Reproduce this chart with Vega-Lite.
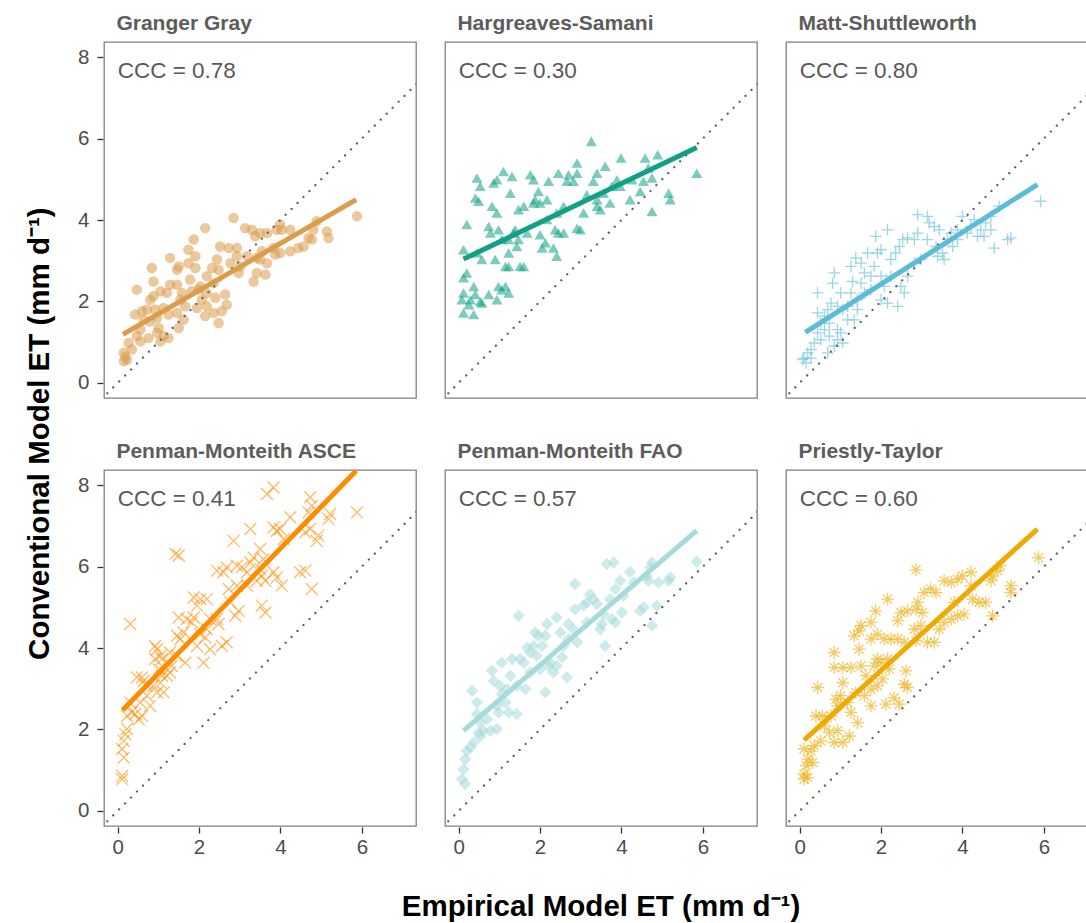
{
"$schema": "https://vega.github.io/schema/vega-lite/v6.json",
"padding": {"left": 25, "top": 11, "right": 0, "bottom": 0},
"title": {"text": "\u200b\u00a0\u00a0\u00a0\u00a0\u00a0\u00a0\u00a0\u00a0Conventional Model ET (mm d⁻¹)", "orient": "left", "anchor": "middle", "fontSize": 29.5, "fontWeight": "bold", "font": "Liberation Sans", "color": "#000000", "offset": 22},
"data": {"values": [
{"model":"Granger Gray","kind":"p","x":0.15,"y":0.53},{"model":"Granger Gray","kind":"p","x":0.19,"y":0.65},{"model":"Granger Gray","kind":"p","x":0.23,"y":0.57},{"model":"Granger Gray","kind":"p","x":0.15,"y":0.74},{"model":"Granger Gray","kind":"p","x":0.35,"y":0.82},{"model":"Granger Gray","kind":"p","x":0.27,"y":0.98},{"model":"Granger Gray","kind":"p","x":0.47,"y":1.15},{"model":"Granger Gray","kind":"p","x":0.56,"y":1.02},{"model":"Granger Gray","kind":"p","x":0.76,"y":1.10},{"model":"Granger Gray","kind":"p","x":0.56,"y":1.31},{"model":"Granger Gray","kind":"p","x":0.43,"y":1.68},{"model":"Granger Gray","kind":"p","x":0.60,"y":1.76},{"model":"Granger Gray","kind":"p","x":0.47,"y":2.29},{"model":"Granger Gray","kind":"p","x":0.84,"y":2.82},{"model":"Granger Gray","kind":"p","x":0.88,"y":2.49},{"model":"Granger Gray","kind":"p","x":0.88,"y":2.13},{"model":"Granger Gray","kind":"p","x":0.92,"y":1.80},{"model":"Granger Gray","kind":"p","x":0.97,"y":1.60},{"model":"Granger Gray","kind":"p","x":0.80,"y":1.51},{"model":"Granger Gray","kind":"p","x":1.01,"y":1.35},{"model":"Granger Gray","kind":"p","x":1.13,"y":1.15},{"model":"Granger Gray","kind":"p","x":1.25,"y":1.10},{"model":"Granger Gray","kind":"p","x":1.05,"y":1.02},{"model":"Granger Gray","kind":"p","x":1.25,"y":1.68},{"model":"Granger Gray","kind":"p","x":1.13,"y":1.84},{"model":"Granger Gray","kind":"p","x":1.05,"y":2.25},{"model":"Granger Gray","kind":"p","x":1.29,"y":2.41},{"model":"Granger Gray","kind":"p","x":1.29,"y":3.07},{"model":"Granger Gray","kind":"p","x":1.50,"y":2.86},{"model":"Granger Gray","kind":"p","x":1.46,"y":2.41},{"model":"Granger Gray","kind":"p","x":1.50,"y":1.35},{"model":"Granger Gray","kind":"p","x":1.62,"y":1.55},{"model":"Granger Gray","kind":"p","x":1.66,"y":1.88},{"model":"Granger Gray","kind":"p","x":1.58,"y":2.21},{"model":"Granger Gray","kind":"p","x":1.74,"y":3.27},{"model":"Granger Gray","kind":"p","x":1.87,"y":3.52},{"model":"Granger Gray","kind":"p","x":1.74,"y":2.94},{"model":"Granger Gray","kind":"p","x":1.91,"y":3.11},{"model":"Granger Gray","kind":"p","x":1.91,"y":2.82},{"model":"Granger Gray","kind":"p","x":1.82,"y":2.25},{"model":"Granger Gray","kind":"p","x":1.99,"y":2.29},{"model":"Granger Gray","kind":"p","x":1.95,"y":1.84},{"model":"Granger Gray","kind":"p","x":2.07,"y":2.04},{"model":"Granger Gray","kind":"p","x":2.15,"y":1.64},{"model":"Granger Gray","kind":"p","x":2.19,"y":1.88},{"model":"Granger Gray","kind":"p","x":2.19,"y":2.62},{"model":"Granger Gray","kind":"p","x":2.32,"y":2.82},{"model":"Granger Gray","kind":"p","x":2.36,"y":2.45},{"model":"Granger Gray","kind":"p","x":2.44,"y":3.03},{"model":"Granger Gray","kind":"p","x":2.48,"y":2.78},{"model":"Granger Gray","kind":"p","x":2.48,"y":1.47},{"model":"Granger Gray","kind":"p","x":2.36,"y":1.72},{"model":"Granger Gray","kind":"p","x":2.56,"y":1.76},{"model":"Granger Gray","kind":"p","x":2.64,"y":2.17},{"model":"Granger Gray","kind":"p","x":2.68,"y":1.92},{"model":"Granger Gray","kind":"p","x":2.40,"y":2.09},{"model":"Granger Gray","kind":"p","x":2.15,"y":3.80},{"model":"Granger Gray","kind":"p","x":2.52,"y":3.35},{"model":"Granger Gray","kind":"p","x":2.73,"y":3.31},{"model":"Granger Gray","kind":"p","x":2.85,"y":4.05},{"model":"Granger Gray","kind":"p","x":2.93,"y":3.31},{"model":"Granger Gray","kind":"p","x":2.93,"y":3.11},{"model":"Granger Gray","kind":"p","x":2.97,"y":2.70},{"model":"Granger Gray","kind":"p","x":3.01,"y":2.86},{"model":"Granger Gray","kind":"p","x":3.13,"y":3.80},{"model":"Granger Gray","kind":"p","x":3.30,"y":3.76},{"model":"Granger Gray","kind":"p","x":3.34,"y":2.49},{"model":"Granger Gray","kind":"p","x":3.42,"y":2.70},{"model":"Granger Gray","kind":"p","x":3.38,"y":3.60},{"model":"Granger Gray","kind":"p","x":3.50,"y":3.68},{"model":"Granger Gray","kind":"p","x":3.54,"y":3.23},{"model":"Granger Gray","kind":"p","x":3.63,"y":2.66},{"model":"Granger Gray","kind":"p","x":3.50,"y":3.03},{"model":"Granger Gray","kind":"p","x":3.67,"y":3.68},{"model":"Granger Gray","kind":"p","x":3.83,"y":3.31},{"model":"Granger Gray","kind":"p","x":3.87,"y":3.15},{"model":"Granger Gray","kind":"p","x":3.91,"y":3.76},{"model":"Granger Gray","kind":"p","x":3.99,"y":3.89},{"model":"Granger Gray","kind":"p","x":4.03,"y":3.76},{"model":"Granger Gray","kind":"p","x":4.24,"y":3.76},{"model":"Granger Gray","kind":"p","x":4.24,"y":3.23},{"model":"Granger Gray","kind":"p","x":4.44,"y":3.31},{"model":"Granger Gray","kind":"p","x":4.57,"y":3.35},{"model":"Granger Gray","kind":"p","x":4.69,"y":3.56},{"model":"Granger Gray","kind":"p","x":4.77,"y":3.52},{"model":"Granger Gray","kind":"p","x":4.81,"y":3.76},{"model":"Granger Gray","kind":"p","x":4.89,"y":3.97},{"model":"Granger Gray","kind":"p","x":5.14,"y":3.72},{"model":"Granger Gray","kind":"p","x":5.18,"y":3.56},{"model":"Granger Gray","kind":"p","x":5.88,"y":4.09},{"model":"Granger Gray","kind":"p","x":3.42,"y":3.07},{"model":"Granger Gray","kind":"p","x":3.67,"y":2.94},{"model":"Granger Gray","kind":"p","x":3.99,"y":3.19},{"model":"Granger Gray","kind":"p","x":3.18,"y":3.11},{"model":"Granger Gray","kind":"p","x":2.77,"y":2.94},{"model":"Granger Gray","kind":"p","x":2.03,"y":2.37},{"model":"Granger Gray","kind":"p","x":1.78,"y":2.54},{"model":"Granger Gray","kind":"p","x":1.46,"y":2.78},{"model":"Granger Gray","kind":"p","x":1.21,"y":2.21},{"model":"Granger Gray","kind":"p","x":0.80,"y":2.04},{"model":"Granger Gray","kind":"p","x":0.72,"y":1.80},{"model":"Granger Gray","kind":"p","x":0.64,"y":1.55},{"model":"Granger Gray","kind":"p","x":1.54,"y":2.04},{"model":"Granger Gray","kind":"p","x":2.19,"y":2.21},{"model":"Granger Gray","kind":"p","x":1.46,"y":1.72},{"model":"Granger Gray","kind":"p","x":0.97,"y":1.23},
{"model":"Hargreaves-Samani","kind":"p","x":3.26,"y":5.93},{"model":"Hargreaves-Samani","kind":"p","x":3.99,"y":5.52},{"model":"Hargreaves-Samani","kind":"p","x":4.58,"y":5.52},{"model":"Hargreaves-Samani","kind":"p","x":4.89,"y":5.60},{"model":"Hargreaves-Samani","kind":"p","x":5.85,"y":5.15},{"model":"Hargreaves-Samani","kind":"p","x":4.66,"y":5.28},{"model":"Hargreaves-Samani","kind":"p","x":4.54,"y":4.95},{"model":"Hargreaves-Samani","kind":"p","x":4.75,"y":5.03},{"model":"Hargreaves-Samani","kind":"p","x":5.16,"y":4.66},{"model":"Hargreaves-Samani","kind":"p","x":5.20,"y":4.50},{"model":"Hargreaves-Samani","kind":"p","x":4.75,"y":4.21},{"model":"Hargreaves-Samani","kind":"p","x":4.46,"y":4.70},{"model":"Hargreaves-Samani","kind":"p","x":4.26,"y":4.99},{"model":"Hargreaves-Samani","kind":"p","x":3.89,"y":4.99},{"model":"Hargreaves-Samani","kind":"p","x":3.76,"y":4.83},{"model":"Hargreaves-Samani","kind":"p","x":3.60,"y":5.32},{"model":"Hargreaves-Samani","kind":"p","x":3.40,"y":5.15},{"model":"Hargreaves-Samani","kind":"p","x":3.31,"y":4.95},{"model":"Hargreaves-Samani","kind":"p","x":3.40,"y":4.50},{"model":"Hargreaves-Samani","kind":"p","x":3.48,"y":4.25},{"model":"Hargreaves-Samani","kind":"p","x":3.56,"y":4.66},{"model":"Hargreaves-Samani","kind":"p","x":3.15,"y":4.62},{"model":"Hargreaves-Samani","kind":"p","x":2.91,"y":5.40},{"model":"Hargreaves-Samani","kind":"p","x":2.91,"y":5.15},{"model":"Hargreaves-Samani","kind":"p","x":2.70,"y":5.11},{"model":"Hargreaves-Samani","kind":"p","x":2.45,"y":5.15},{"model":"Hargreaves-Samani","kind":"p","x":2.82,"y":4.95},{"model":"Hargreaves-Samani","kind":"p","x":2.66,"y":4.95},{"model":"Hargreaves-Samani","kind":"p","x":2.99,"y":3.76},{"model":"Hargreaves-Samani","kind":"p","x":2.91,"y":3.80},{"model":"Hargreaves-Samani","kind":"p","x":2.58,"y":3.68},{"model":"Hargreaves-Samani","kind":"p","x":2.45,"y":3.68},{"model":"Hargreaves-Samani","kind":"p","x":2.37,"y":3.76},{"model":"Hargreaves-Samani","kind":"p","x":2.41,"y":3.11},{"model":"Hargreaves-Samani","kind":"p","x":2.33,"y":3.31},{"model":"Hargreaves-Samani","kind":"p","x":2.05,"y":3.31},{"model":"Hargreaves-Samani","kind":"p","x":2.00,"y":3.64},{"model":"Hargreaves-Samani","kind":"p","x":2.13,"y":3.44},{"model":"Hargreaves-Samani","kind":"p","x":2.17,"y":4.50},{"model":"Hargreaves-Samani","kind":"p","x":2.21,"y":4.95},{"model":"Hargreaves-Samani","kind":"p","x":1.96,"y":4.70},{"model":"Hargreaves-Samani","kind":"p","x":1.84,"y":4.99},{"model":"Hargreaves-Samani","kind":"p","x":1.76,"y":5.11},{"model":"Hargreaves-Samani","kind":"p","x":1.88,"y":4.50},{"model":"Hargreaves-Samani","kind":"p","x":1.84,"y":4.42},{"model":"Hargreaves-Samani","kind":"p","x":1.60,"y":4.34},{"model":"Hargreaves-Samani","kind":"p","x":1.47,"y":4.25},{"model":"Hargreaves-Samani","kind":"p","x":1.39,"y":3.76},{"model":"Hargreaves-Samani","kind":"p","x":1.35,"y":3.68},{"model":"Hargreaves-Samani","kind":"p","x":1.27,"y":4.66},{"model":"Hargreaves-Samani","kind":"p","x":1.31,"y":5.07},{"model":"Hargreaves-Samani","kind":"p","x":1.10,"y":5.19},{"model":"Hargreaves-Samani","kind":"p","x":0.94,"y":4.99},{"model":"Hargreaves-Samani","kind":"p","x":0.86,"y":4.91},{"model":"Hargreaves-Samani","kind":"p","x":0.82,"y":4.34},{"model":"Hargreaves-Samani","kind":"p","x":0.78,"y":3.68},{"model":"Hargreaves-Samani","kind":"p","x":0.98,"y":3.76},{"model":"Hargreaves-Samani","kind":"p","x":1.06,"y":3.52},{"model":"Hargreaves-Samani","kind":"p","x":0.90,"y":3.03},{"model":"Hargreaves-Samani","kind":"p","x":1.15,"y":2.86},{"model":"Hargreaves-Samani","kind":"p","x":1.23,"y":2.86},{"model":"Hargreaves-Samani","kind":"p","x":1.23,"y":3.19},{"model":"Hargreaves-Samani","kind":"p","x":1.51,"y":2.86},{"model":"Hargreaves-Samani","kind":"p","x":1.60,"y":2.86},{"model":"Hargreaves-Samani","kind":"p","x":1.47,"y":3.52},{"model":"Hargreaves-Samani","kind":"p","x":1.43,"y":3.35},{"model":"Hargreaves-Samani","kind":"p","x":1.06,"y":2.29},{"model":"Hargreaves-Samani","kind":"p","x":0.98,"y":2.37},{"model":"Hargreaves-Samani","kind":"p","x":1.23,"y":2.21},{"model":"Hargreaves-Samani","kind":"p","x":0.94,"y":2.04},{"model":"Hargreaves-Samani","kind":"p","x":0.74,"y":2.17},{"model":"Hargreaves-Samani","kind":"p","x":0.57,"y":1.96},{"model":"Hargreaves-Samani","kind":"p","x":0.53,"y":2.00},{"model":"Hargreaves-Samani","kind":"p","x":0.41,"y":2.17},{"model":"Hargreaves-Samani","kind":"p","x":0.37,"y":2.37},{"model":"Hargreaves-Samani","kind":"p","x":0.20,"y":2.70},{"model":"Hargreaves-Samani","kind":"p","x":0.12,"y":2.58},{"model":"Hargreaves-Samani","kind":"p","x":0.12,"y":2.21},{"model":"Hargreaves-Samani","kind":"p","x":0.08,"y":2.04},{"model":"Hargreaves-Samani","kind":"p","x":0.29,"y":2.04},{"model":"Hargreaves-Samani","kind":"p","x":0.25,"y":1.92},{"model":"Hargreaves-Samani","kind":"p","x":0.12,"y":1.72},{"model":"Hargreaves-Samani","kind":"p","x":0.37,"y":1.68},{"model":"Hargreaves-Samani","kind":"p","x":0.12,"y":3.27},{"model":"Hargreaves-Samani","kind":"p","x":0.45,"y":3.19},{"model":"Hargreaves-Samani","kind":"p","x":0.49,"y":4.46},{"model":"Hargreaves-Samani","kind":"p","x":0.41,"y":4.54},{"model":"Hargreaves-Samani","kind":"p","x":0.53,"y":4.83},{"model":"Hargreaves-Samani","kind":"p","x":0.45,"y":5.03},{"model":"Hargreaves-Samani","kind":"p","x":0.20,"y":3.89},{"model":"Hargreaves-Samani","kind":"p","x":1.23,"y":3.52},{"model":"Hargreaves-Samani","kind":"p","x":1.68,"y":3.68},{"model":"Hargreaves-Samani","kind":"p","x":2.17,"y":4.01},{"model":"Hargreaves-Samani","kind":"p","x":2.41,"y":4.17},{"model":"Hargreaves-Samani","kind":"p","x":2.58,"y":4.34},{"model":"Hargreaves-Samani","kind":"p","x":3.07,"y":4.17},{"model":"Hargreaves-Samani","kind":"p","x":3.40,"y":4.34},{"model":"Hargreaves-Samani","kind":"p","x":3.72,"y":4.42},{"model":"Hargreaves-Samani","kind":"p","x":3.97,"y":4.83},{"model":"Hargreaves-Samani","kind":"p","x":4.21,"y":4.50},{"model":"Hargreaves-Samani","kind":"p","x":0.94,"y":4.17},{"model":"Hargreaves-Samani","kind":"p","x":0.74,"y":3.84},{"model":"Hargreaves-Samani","kind":"p","x":0.57,"y":3.03},{"model":"Hargreaves-Samani","kind":"p","x":1.15,"y":2.37},{"model":"Hargreaves-Samani","kind":"p","x":2.00,"y":4.42},
{"model":"Matt-Shuttleworth","kind":"p","x":5.92,"y":4.46},{"model":"Matt-Shuttleworth","kind":"p","x":5.19,"y":3.56},{"model":"Matt-Shuttleworth","kind":"p","x":5.11,"y":3.52},{"model":"Matt-Shuttleworth","kind":"p","x":4.78,"y":3.31},{"model":"Matt-Shuttleworth","kind":"p","x":4.90,"y":4.34},{"model":"Matt-Shuttleworth","kind":"p","x":4.70,"y":4.09},{"model":"Matt-Shuttleworth","kind":"p","x":4.57,"y":3.93},{"model":"Matt-Shuttleworth","kind":"p","x":4.45,"y":3.76},{"model":"Matt-Shuttleworth","kind":"p","x":4.21,"y":3.84},{"model":"Matt-Shuttleworth","kind":"p","x":4.12,"y":3.68},{"model":"Matt-Shuttleworth","kind":"p","x":4.00,"y":4.09},{"model":"Matt-Shuttleworth","kind":"p","x":3.88,"y":3.52},{"model":"Matt-Shuttleworth","kind":"p","x":3.76,"y":3.35},{"model":"Matt-Shuttleworth","kind":"p","x":3.63,"y":3.52},{"model":"Matt-Shuttleworth","kind":"p","x":3.51,"y":3.19},{"model":"Matt-Shuttleworth","kind":"p","x":3.43,"y":3.76},{"model":"Matt-Shuttleworth","kind":"p","x":3.31,"y":3.84},{"model":"Matt-Shuttleworth","kind":"p","x":3.18,"y":3.93},{"model":"Matt-Shuttleworth","kind":"p","x":3.14,"y":4.09},{"model":"Matt-Shuttleworth","kind":"p","x":2.90,"y":4.13},{"model":"Matt-Shuttleworth","kind":"p","x":2.90,"y":3.68},{"model":"Matt-Shuttleworth","kind":"p","x":2.82,"y":3.52},{"model":"Matt-Shuttleworth","kind":"p","x":2.65,"y":3.56},{"model":"Matt-Shuttleworth","kind":"p","x":2.53,"y":3.52},{"model":"Matt-Shuttleworth","kind":"p","x":2.45,"y":3.35},{"model":"Matt-Shuttleworth","kind":"p","x":2.36,"y":3.19},{"model":"Matt-Shuttleworth","kind":"p","x":2.24,"y":3.03},{"model":"Matt-Shuttleworth","kind":"p","x":2.16,"y":3.76},{"model":"Matt-Shuttleworth","kind":"p","x":2.00,"y":3.27},{"model":"Matt-Shuttleworth","kind":"p","x":1.87,"y":3.60},{"model":"Matt-Shuttleworth","kind":"p","x":1.91,"y":3.19},{"model":"Matt-Shuttleworth","kind":"p","x":1.83,"y":2.86},{"model":"Matt-Shuttleworth","kind":"p","x":1.75,"y":2.62},{"model":"Matt-Shuttleworth","kind":"p","x":1.67,"y":3.19},{"model":"Matt-Shuttleworth","kind":"p","x":1.51,"y":2.94},{"model":"Matt-Shuttleworth","kind":"p","x":1.38,"y":3.07},{"model":"Matt-Shuttleworth","kind":"p","x":1.26,"y":2.86},{"model":"Matt-Shuttleworth","kind":"p","x":1.30,"y":2.49},{"model":"Matt-Shuttleworth","kind":"p","x":1.51,"y":2.45},{"model":"Matt-Shuttleworth","kind":"p","x":1.59,"y":2.21},{"model":"Matt-Shuttleworth","kind":"p","x":1.42,"y":2.04},{"model":"Matt-Shuttleworth","kind":"p","x":1.26,"y":2.21},{"model":"Matt-Shuttleworth","kind":"p","x":1.01,"y":2.21},{"model":"Matt-Shuttleworth","kind":"p","x":0.85,"y":2.70},{"model":"Matt-Shuttleworth","kind":"p","x":0.81,"y":2.45},{"model":"Matt-Shuttleworth","kind":"p","x":0.93,"y":1.88},{"model":"Matt-Shuttleworth","kind":"p","x":1.06,"y":1.80},{"model":"Matt-Shuttleworth","kind":"p","x":1.18,"y":1.88},{"model":"Matt-Shuttleworth","kind":"p","x":0.77,"y":1.96},{"model":"Matt-Shuttleworth","kind":"p","x":0.69,"y":1.80},{"model":"Matt-Shuttleworth","kind":"p","x":0.61,"y":1.64},{"model":"Matt-Shuttleworth","kind":"p","x":0.44,"y":2.21},{"model":"Matt-Shuttleworth","kind":"p","x":0.44,"y":1.72},{"model":"Matt-Shuttleworth","kind":"p","x":0.52,"y":1.47},{"model":"Matt-Shuttleworth","kind":"p","x":0.73,"y":1.47},{"model":"Matt-Shuttleworth","kind":"p","x":0.93,"y":1.31},{"model":"Matt-Shuttleworth","kind":"p","x":1.01,"y":1.23},{"model":"Matt-Shuttleworth","kind":"p","x":1.06,"y":0.98},{"model":"Matt-Shuttleworth","kind":"p","x":0.93,"y":1.06},{"model":"Matt-Shuttleworth","kind":"p","x":0.73,"y":1.15},{"model":"Matt-Shuttleworth","kind":"p","x":0.52,"y":1.06},{"model":"Matt-Shuttleworth","kind":"p","x":0.36,"y":0.98},{"model":"Matt-Shuttleworth","kind":"p","x":0.28,"y":0.82},{"model":"Matt-Shuttleworth","kind":"p","x":0.20,"y":0.74},{"model":"Matt-Shuttleworth","kind":"p","x":0.11,"y":0.61},{"model":"Matt-Shuttleworth","kind":"p","x":0.07,"y":0.57},{"model":"Matt-Shuttleworth","kind":"p","x":0.16,"y":0.49},{"model":"Matt-Shuttleworth","kind":"p","x":0.28,"y":0.61},{"model":"Matt-Shuttleworth","kind":"p","x":0.44,"y":1.23},{"model":"Matt-Shuttleworth","kind":"p","x":0.69,"y":0.74},{"model":"Matt-Shuttleworth","kind":"p","x":1.18,"y":1.55},{"model":"Matt-Shuttleworth","kind":"p","x":1.42,"y":1.80},{"model":"Matt-Shuttleworth","kind":"p","x":1.75,"y":2.29},{"model":"Matt-Shuttleworth","kind":"p","x":2.08,"y":2.37},{"model":"Matt-Shuttleworth","kind":"p","x":2.24,"y":2.62},{"model":"Matt-Shuttleworth","kind":"p","x":2.49,"y":2.37},{"model":"Matt-Shuttleworth","kind":"p","x":2.57,"y":2.21},{"model":"Matt-Shuttleworth","kind":"p","x":2.65,"y":2.62},{"model":"Matt-Shuttleworth","kind":"p","x":2.41,"y":1.88},{"model":"Matt-Shuttleworth","kind":"p","x":2.16,"y":1.96},{"model":"Matt-Shuttleworth","kind":"p","x":2.00,"y":2.04},{"model":"Matt-Shuttleworth","kind":"p","x":2.82,"y":2.94},{"model":"Matt-Shuttleworth","kind":"p","x":3.14,"y":3.52},{"model":"Matt-Shuttleworth","kind":"p","x":3.35,"y":3.35},{"model":"Matt-Shuttleworth","kind":"p","x":3.55,"y":3.03},{"model":"Matt-Shuttleworth","kind":"p","x":3.39,"y":3.11},{"model":"Matt-Shuttleworth","kind":"p","x":3.72,"y":3.68},{"model":"Matt-Shuttleworth","kind":"p","x":3.88,"y":3.76},{"model":"Matt-Shuttleworth","kind":"p","x":4.29,"y":4.01},{"model":"Matt-Shuttleworth","kind":"p","x":4.37,"y":3.60},{"model":"Matt-Shuttleworth","kind":"p","x":4.53,"y":3.60},{"model":"Matt-Shuttleworth","kind":"p","x":4.70,"y":3.76},{"model":"Matt-Shuttleworth","kind":"p","x":2.98,"y":3.03},{"model":"Matt-Shuttleworth","kind":"p","x":2.00,"y":2.62},{"model":"Matt-Shuttleworth","kind":"p","x":1.59,"y":2.70},{"model":"Matt-Shuttleworth","kind":"p","x":1.34,"y":1.55},{"model":"Matt-Shuttleworth","kind":"p","x":0.61,"y":1.31},{"model":"Matt-Shuttleworth","kind":"p","x":0.85,"y":0.90},
{"model":"Penman-Monteith ASCE","kind":"p","x":3.83,"y":7.94},{"model":"Penman-Monteith ASCE","kind":"p","x":3.67,"y":7.78},{"model":"Penman-Monteith ASCE","kind":"p","x":5.88,"y":7.33},{"model":"Penman-Monteith ASCE","kind":"p","x":4.73,"y":7.70},{"model":"Penman-Monteith ASCE","kind":"p","x":4.77,"y":7.49},{"model":"Penman-Monteith ASCE","kind":"p","x":4.69,"y":7.33},{"model":"Penman-Monteith ASCE","kind":"p","x":5.22,"y":7.29},{"model":"Penman-Monteith ASCE","kind":"p","x":5.18,"y":7.17},{"model":"Penman-Monteith ASCE","kind":"p","x":4.93,"y":6.76},{"model":"Penman-Monteith ASCE","kind":"p","x":4.89,"y":6.63},{"model":"Penman-Monteith ASCE","kind":"p","x":4.73,"y":6.92},{"model":"Penman-Monteith ASCE","kind":"p","x":4.61,"y":6.84},{"model":"Penman-Monteith ASCE","kind":"p","x":4.24,"y":7.21},{"model":"Penman-Monteith ASCE","kind":"p","x":3.99,"y":6.92},{"model":"Penman-Monteith ASCE","kind":"p","x":3.91,"y":6.88},{"model":"Penman-Monteith ASCE","kind":"p","x":3.83,"y":6.96},{"model":"Penman-Monteith ASCE","kind":"p","x":3.26,"y":6.92},{"model":"Penman-Monteith ASCE","kind":"p","x":2.85,"y":6.63},{"model":"Penman-Monteith ASCE","kind":"p","x":2.93,"y":6.02},{"model":"Penman-Monteith ASCE","kind":"p","x":3.05,"y":5.98},{"model":"Penman-Monteith ASCE","kind":"p","x":3.26,"y":6.10},{"model":"Penman-Monteith ASCE","kind":"p","x":3.34,"y":6.22},{"model":"Penman-Monteith ASCE","kind":"p","x":3.50,"y":6.43},{"model":"Penman-Monteith ASCE","kind":"p","x":3.58,"y":6.18},{"model":"Penman-Monteith ASCE","kind":"p","x":3.54,"y":5.77},{"model":"Penman-Monteith ASCE","kind":"p","x":3.63,"y":5.65},{"model":"Penman-Monteith ASCE","kind":"p","x":3.83,"y":5.86},{"model":"Penman-Monteith ASCE","kind":"p","x":3.91,"y":5.73},{"model":"Penman-Monteith ASCE","kind":"p","x":4.03,"y":5.53},{"model":"Penman-Monteith ASCE","kind":"p","x":4.48,"y":5.86},{"model":"Penman-Monteith ASCE","kind":"p","x":4.61,"y":5.90},{"model":"Penman-Monteith ASCE","kind":"p","x":4.77,"y":5.45},{"model":"Penman-Monteith ASCE","kind":"p","x":3.54,"y":5.04},{"model":"Penman-Monteith ASCE","kind":"p","x":3.63,"y":4.87},{"model":"Penman-Monteith ASCE","kind":"p","x":3.42,"y":5.65},{"model":"Penman-Monteith ASCE","kind":"p","x":3.18,"y":5.53},{"model":"Penman-Monteith ASCE","kind":"p","x":2.93,"y":5.53},{"model":"Penman-Monteith ASCE","kind":"p","x":2.73,"y":5.45},{"model":"Penman-Monteith ASCE","kind":"p","x":2.68,"y":5.98},{"model":"Penman-Monteith ASCE","kind":"p","x":2.44,"y":5.90},{"model":"Penman-Monteith ASCE","kind":"p","x":2.60,"y":5.86},{"model":"Penman-Monteith ASCE","kind":"p","x":2.97,"y":4.91},{"model":"Penman-Monteith ASCE","kind":"p","x":2.89,"y":4.79},{"model":"Penman-Monteith ASCE","kind":"p","x":2.68,"y":4.14},{"model":"Penman-Monteith ASCE","kind":"p","x":2.56,"y":4.05},{"model":"Penman-Monteith ASCE","kind":"p","x":2.48,"y":4.59},{"model":"Penman-Monteith ASCE","kind":"p","x":2.44,"y":4.71},{"model":"Penman-Monteith ASCE","kind":"p","x":2.27,"y":4.71},{"model":"Penman-Monteith ASCE","kind":"p","x":2.19,"y":4.46},{"model":"Penman-Monteith ASCE","kind":"p","x":2.15,"y":4.26},{"model":"Penman-Monteith ASCE","kind":"p","x":2.03,"y":4.34},{"model":"Penman-Monteith ASCE","kind":"p","x":2.11,"y":3.64},{"model":"Penman-Monteith ASCE","kind":"p","x":2.19,"y":5.20},{"model":"Penman-Monteith ASCE","kind":"p","x":2.03,"y":5.20},{"model":"Penman-Monteith ASCE","kind":"p","x":1.87,"y":5.24},{"model":"Penman-Monteith ASCE","kind":"p","x":1.95,"y":5.04},{"model":"Penman-Monteith ASCE","kind":"p","x":1.87,"y":4.75},{"model":"Penman-Monteith ASCE","kind":"p","x":1.82,"y":4.63},{"model":"Penman-Monteith ASCE","kind":"p","x":1.70,"y":4.71},{"model":"Penman-Monteith ASCE","kind":"p","x":1.62,"y":4.38},{"model":"Penman-Monteith ASCE","kind":"p","x":1.66,"y":3.64},{"model":"Penman-Monteith ASCE","kind":"p","x":1.46,"y":4.30},{"model":"Penman-Monteith ASCE","kind":"p","x":1.50,"y":4.75},{"model":"Penman-Monteith ASCE","kind":"p","x":1.50,"y":6.27},{"model":"Penman-Monteith ASCE","kind":"p","x":1.42,"y":6.31},{"model":"Penman-Monteith ASCE","kind":"p","x":1.54,"y":4.22},{"model":"Penman-Monteith ASCE","kind":"p","x":1.46,"y":3.81},{"model":"Penman-Monteith ASCE","kind":"p","x":1.33,"y":3.56},{"model":"Penman-Monteith ASCE","kind":"p","x":1.29,"y":3.40},{"model":"Penman-Monteith ASCE","kind":"p","x":1.21,"y":3.32},{"model":"Penman-Monteith ASCE","kind":"p","x":1.09,"y":3.73},{"model":"Penman-Monteith ASCE","kind":"p","x":1.05,"y":3.81},{"model":"Penman-Monteith ASCE","kind":"p","x":0.97,"y":3.97},{"model":"Penman-Monteith ASCE","kind":"p","x":0.92,"y":4.05},{"model":"Penman-Monteith ASCE","kind":"p","x":0.92,"y":3.73},{"model":"Penman-Monteith ASCE","kind":"p","x":1.01,"y":3.48},{"model":"Penman-Monteith ASCE","kind":"p","x":1.05,"y":3.15},{"model":"Penman-Monteith ASCE","kind":"p","x":1.13,"y":2.91},{"model":"Penman-Monteith ASCE","kind":"p","x":0.97,"y":2.91},{"model":"Penman-Monteith ASCE","kind":"p","x":0.88,"y":3.07},{"model":"Penman-Monteith ASCE","kind":"p","x":0.72,"y":3.07},{"model":"Penman-Monteith ASCE","kind":"p","x":0.64,"y":3.19},{"model":"Penman-Monteith ASCE","kind":"p","x":0.60,"y":3.28},{"model":"Penman-Monteith ASCE","kind":"p","x":0.47,"y":3.28},{"model":"Penman-Monteith ASCE","kind":"p","x":0.56,"y":2.66},{"model":"Penman-Monteith ASCE","kind":"p","x":0.60,"y":2.33},{"model":"Penman-Monteith ASCE","kind":"p","x":0.52,"y":2.25},{"model":"Penman-Monteith ASCE","kind":"p","x":0.43,"y":2.38},{"model":"Penman-Monteith ASCE","kind":"p","x":0.35,"y":2.42},{"model":"Penman-Monteith ASCE","kind":"p","x":0.23,"y":2.33},{"model":"Penman-Monteith ASCE","kind":"p","x":0.31,"y":2.66},{"model":"Penman-Monteith ASCE","kind":"p","x":0.23,"y":2.01},{"model":"Penman-Monteith ASCE","kind":"p","x":0.19,"y":1.88},{"model":"Penman-Monteith ASCE","kind":"p","x":0.15,"y":1.72},{"model":"Penman-Monteith ASCE","kind":"p","x":0.11,"y":1.52},{"model":"Penman-Monteith ASCE","kind":"p","x":0.15,"y":1.31},{"model":"Penman-Monteith ASCE","kind":"p","x":0.11,"y":0.86},{"model":"Penman-Monteith ASCE","kind":"p","x":0.11,"y":0.78},{"model":"Penman-Monteith ASCE","kind":"p","x":0.31,"y":4.59},{"model":"Penman-Monteith ASCE","kind":"p","x":0.72,"y":2.83},{"model":"Penman-Monteith ASCE","kind":"p","x":0.80,"y":2.58},{"model":"Penman-Monteith ASCE","kind":"p","x":1.29,"y":3.89},{"model":"Penman-Monteith ASCE","kind":"p","x":1.09,"y":3.32},{"model":"Penman-Monteith ASCE","kind":"p","x":1.95,"y":4.05},{"model":"Penman-Monteith ASCE","kind":"p","x":2.27,"y":3.97},{"model":"Penman-Monteith ASCE","kind":"p","x":3.18,"y":5.86},{"model":"Penman-Monteith ASCE","kind":"p","x":3.50,"y":5.94},{"model":"Penman-Monteith ASCE","kind":"p","x":4.08,"y":6.67},{"model":"Penman-Monteith ASCE","kind":"p","x":2.77,"y":5.12},
{"model":"Penman-Monteith FAO","kind":"p","x":5.85,"y":6.12},{"model":"Penman-Monteith FAO","kind":"p","x":4.75,"y":6.10},{"model":"Penman-Monteith FAO","kind":"p","x":4.71,"y":5.98},{"model":"Penman-Monteith FAO","kind":"p","x":3.64,"y":6.06},{"model":"Penman-Monteith FAO","kind":"p","x":3.81,"y":6.10},{"model":"Penman-Monteith FAO","kind":"p","x":4.21,"y":5.87},{"model":"Penman-Monteith FAO","kind":"p","x":3.97,"y":5.65},{"model":"Penman-Monteith FAO","kind":"p","x":3.85,"y":5.45},{"model":"Penman-Monteith FAO","kind":"p","x":4.62,"y":5.77},{"model":"Penman-Monteith FAO","kind":"p","x":4.66,"y":5.65},{"model":"Penman-Monteith FAO","kind":"p","x":4.91,"y":5.61},{"model":"Penman-Monteith FAO","kind":"p","x":5.16,"y":5.65},{"model":"Penman-Monteith FAO","kind":"p","x":5.20,"y":5.73},{"model":"Penman-Monteith FAO","kind":"p","x":4.87,"y":5.04},{"model":"Penman-Monteith FAO","kind":"p","x":4.75,"y":4.55},{"model":"Penman-Monteith FAO","kind":"p","x":4.54,"y":5.00},{"model":"Penman-Monteith FAO","kind":"p","x":4.46,"y":4.91},{"model":"Penman-Monteith FAO","kind":"p","x":4.01,"y":4.87},{"model":"Penman-Monteith FAO","kind":"p","x":3.76,"y":4.71},{"model":"Penman-Monteith FAO","kind":"p","x":3.85,"y":4.63},{"model":"Penman-Monteith FAO","kind":"p","x":3.60,"y":4.05},{"model":"Penman-Monteith FAO","kind":"p","x":3.52,"y":4.59},{"model":"Penman-Monteith FAO","kind":"p","x":3.56,"y":4.83},{"model":"Penman-Monteith FAO","kind":"p","x":3.40,"y":5.08},{"model":"Penman-Monteith FAO","kind":"p","x":3.31,"y":5.20},{"model":"Penman-Monteith FAO","kind":"p","x":3.23,"y":5.32},{"model":"Penman-Monteith FAO","kind":"p","x":3.15,"y":5.12},{"model":"Penman-Monteith FAO","kind":"p","x":3.07,"y":5.04},{"model":"Penman-Monteith FAO","kind":"p","x":2.86,"y":5.57},{"model":"Penman-Monteith FAO","kind":"p","x":2.86,"y":4.95},{"model":"Penman-Monteith FAO","kind":"p","x":2.70,"y":4.59},{"model":"Penman-Monteith FAO","kind":"p","x":2.91,"y":4.14},{"model":"Penman-Monteith FAO","kind":"p","x":2.70,"y":4.22},{"model":"Penman-Monteith FAO","kind":"p","x":2.58,"y":4.05},{"model":"Penman-Monteith FAO","kind":"p","x":2.50,"y":4.38},{"model":"Penman-Monteith FAO","kind":"p","x":2.41,"y":4.75},{"model":"Penman-Monteith FAO","kind":"p","x":2.17,"y":4.59},{"model":"Penman-Monteith FAO","kind":"p","x":2.13,"y":4.30},{"model":"Penman-Monteith FAO","kind":"p","x":1.96,"y":4.30},{"model":"Penman-Monteith FAO","kind":"p","x":1.92,"y":3.81},{"model":"Penman-Monteith FAO","kind":"p","x":2.00,"y":3.48},{"model":"Penman-Monteith FAO","kind":"p","x":2.21,"y":3.56},{"model":"Penman-Monteith FAO","kind":"p","x":2.33,"y":3.40},{"model":"Penman-Monteith FAO","kind":"p","x":2.41,"y":3.56},{"model":"Penman-Monteith FAO","kind":"p","x":2.54,"y":3.77},{"model":"Penman-Monteith FAO","kind":"p","x":2.66,"y":3.28},{"model":"Penman-Monteith FAO","kind":"p","x":2.13,"y":2.91},{"model":"Penman-Monteith FAO","kind":"p","x":1.88,"y":4.38},{"model":"Penman-Monteith FAO","kind":"p","x":1.84,"y":4.05},{"model":"Penman-Monteith FAO","kind":"p","x":1.76,"y":3.89},{"model":"Penman-Monteith FAO","kind":"p","x":1.68,"y":4.01},{"model":"Penman-Monteith FAO","kind":"p","x":1.64,"y":2.99},{"model":"Penman-Monteith FAO","kind":"p","x":1.51,"y":3.73},{"model":"Penman-Monteith FAO","kind":"p","x":1.47,"y":4.79},{"model":"Penman-Monteith FAO","kind":"p","x":1.31,"y":3.73},{"model":"Penman-Monteith FAO","kind":"p","x":1.27,"y":3.32},{"model":"Penman-Monteith FAO","kind":"p","x":1.43,"y":2.38},{"model":"Penman-Monteith FAO","kind":"p","x":1.23,"y":2.42},{"model":"Penman-Monteith FAO","kind":"p","x":1.15,"y":2.66},{"model":"Penman-Monteith FAO","kind":"p","x":1.06,"y":2.87},{"model":"Penman-Monteith FAO","kind":"p","x":1.02,"y":3.07},{"model":"Penman-Monteith FAO","kind":"p","x":0.98,"y":2.42},{"model":"Penman-Monteith FAO","kind":"p","x":0.94,"y":2.01},{"model":"Penman-Monteith FAO","kind":"p","x":0.78,"y":1.97},{"model":"Penman-Monteith FAO","kind":"p","x":0.86,"y":3.19},{"model":"Penman-Monteith FAO","kind":"p","x":0.82,"y":3.44},{"model":"Penman-Monteith FAO","kind":"p","x":0.45,"y":2.66},{"model":"Penman-Monteith FAO","kind":"p","x":0.33,"y":2.95},{"model":"Penman-Monteith FAO","kind":"p","x":0.45,"y":2.38},{"model":"Penman-Monteith FAO","kind":"p","x":0.53,"y":2.17},{"model":"Penman-Monteith FAO","kind":"p","x":0.49,"y":1.92},{"model":"Penman-Monteith FAO","kind":"p","x":0.53,"y":1.84},{"model":"Penman-Monteith FAO","kind":"p","x":0.37,"y":1.68},{"model":"Penman-Monteith FAO","kind":"p","x":0.29,"y":1.56},{"model":"Penman-Monteith FAO","kind":"p","x":0.20,"y":1.47},{"model":"Penman-Monteith FAO","kind":"p","x":0.16,"y":1.27},{"model":"Penman-Monteith FAO","kind":"p","x":0.12,"y":1.02},{"model":"Penman-Monteith FAO","kind":"p","x":0.08,"y":0.78},{"model":"Penman-Monteith FAO","kind":"p","x":0.16,"y":0.66},{"model":"Penman-Monteith FAO","kind":"p","x":1.06,"y":3.64},{"model":"Penman-Monteith FAO","kind":"p","x":1.43,"y":3.07},{"model":"Penman-Monteith FAO","kind":"p","x":1.76,"y":3.40},{"model":"Penman-Monteith FAO","kind":"p","x":2.05,"y":4.05},{"model":"Penman-Monteith FAO","kind":"p","x":2.25,"y":3.64},{"model":"Penman-Monteith FAO","kind":"p","x":2.82,"y":4.46},{"model":"Penman-Monteith FAO","kind":"p","x":3.15,"y":4.63},{"model":"Penman-Monteith FAO","kind":"p","x":3.48,"y":4.46},{"model":"Penman-Monteith FAO","kind":"p","x":3.72,"y":5.20},{"model":"Penman-Monteith FAO","kind":"p","x":4.05,"y":5.28},{"model":"Penman-Monteith FAO","kind":"p","x":4.30,"y":5.61},{"model":"Penman-Monteith FAO","kind":"p","x":0.70,"y":2.25},{"model":"Penman-Monteith FAO","kind":"p","x":0.61,"y":1.97},{"model":"Penman-Monteith FAO","kind":"p","x":0.94,"y":2.58},{"model":"Penman-Monteith FAO","kind":"p","x":1.19,"y":2.99},{"model":"Penman-Monteith FAO","kind":"p","x":1.60,"y":3.64},
{"model":"Priestly-Taylor","kind":"p","x":5.87,"y":6.22},{"model":"Priestly-Taylor","kind":"p","x":2.86,"y":5.92},{"model":"Priestly-Taylor","kind":"p","x":4.86,"y":5.90},{"model":"Priestly-Taylor","kind":"p","x":4.74,"y":5.77},{"model":"Priestly-Taylor","kind":"p","x":4.70,"y":5.65},{"model":"Priestly-Taylor","kind":"p","x":4.94,"y":6.02},{"model":"Priestly-Taylor","kind":"p","x":5.19,"y":5.53},{"model":"Priestly-Taylor","kind":"p","x":5.19,"y":5.36},{"model":"Priestly-Taylor","kind":"p","x":4.74,"y":4.79},{"model":"Priestly-Taylor","kind":"p","x":4.57,"y":5.12},{"model":"Priestly-Taylor","kind":"p","x":4.41,"y":5.12},{"model":"Priestly-Taylor","kind":"p","x":4.25,"y":5.20},{"model":"Priestly-Taylor","kind":"p","x":4.21,"y":5.86},{"model":"Priestly-Taylor","kind":"p","x":4.00,"y":5.77},{"model":"Priestly-Taylor","kind":"p","x":3.88,"y":5.69},{"model":"Priestly-Taylor","kind":"p","x":3.72,"y":5.61},{"model":"Priestly-Taylor","kind":"p","x":3.55,"y":5.65},{"model":"Priestly-Taylor","kind":"p","x":3.35,"y":5.36},{"model":"Priestly-Taylor","kind":"p","x":3.22,"y":5.45},{"model":"Priestly-Taylor","kind":"p","x":3.06,"y":5.36},{"model":"Priestly-Taylor","kind":"p","x":3.02,"y":4.87},{"model":"Priestly-Taylor","kind":"p","x":2.90,"y":5.12},{"model":"Priestly-Taylor","kind":"p","x":2.86,"y":4.95},{"model":"Priestly-Taylor","kind":"p","x":2.65,"y":4.91},{"model":"Priestly-Taylor","kind":"p","x":2.49,"y":4.87},{"model":"Priestly-Taylor","kind":"p","x":2.41,"y":4.67},{"model":"Priestly-Taylor","kind":"p","x":2.16,"y":5.20},{"model":"Priestly-Taylor","kind":"p","x":1.87,"y":4.91},{"model":"Priestly-Taylor","kind":"p","x":1.75,"y":4.63},{"model":"Priestly-Taylor","kind":"p","x":1.51,"y":4.55},{"model":"Priestly-Taylor","kind":"p","x":1.46,"y":4.42},{"model":"Priestly-Taylor","kind":"p","x":1.34,"y":4.30},{"model":"Priestly-Taylor","kind":"p","x":1.46,"y":3.97},{"model":"Priestly-Taylor","kind":"p","x":1.75,"y":4.22},{"model":"Priestly-Taylor","kind":"p","x":1.91,"y":4.34},{"model":"Priestly-Taylor","kind":"p","x":2.08,"y":4.22},{"model":"Priestly-Taylor","kind":"p","x":2.24,"y":4.22},{"model":"Priestly-Taylor","kind":"p","x":2.41,"y":4.22},{"model":"Priestly-Taylor","kind":"p","x":2.57,"y":4.14},{"model":"Priestly-Taylor","kind":"p","x":2.86,"y":4.18},{"model":"Priestly-Taylor","kind":"p","x":3.14,"y":4.14},{"model":"Priestly-Taylor","kind":"p","x":3.31,"y":4.14},{"model":"Priestly-Taylor","kind":"p","x":3.43,"y":4.46},{"model":"Priestly-Taylor","kind":"p","x":3.55,"y":4.63},{"model":"Priestly-Taylor","kind":"p","x":3.72,"y":4.71},{"model":"Priestly-Taylor","kind":"p","x":3.88,"y":4.79},{"model":"Priestly-Taylor","kind":"p","x":4.04,"y":4.83},{"model":"Priestly-Taylor","kind":"p","x":3.80,"y":5.12},{"model":"Priestly-Taylor","kind":"p","x":0.85,"y":3.89},{"model":"Priestly-Taylor","kind":"p","x":0.85,"y":3.52},{"model":"Priestly-Taylor","kind":"p","x":1.06,"y":3.52},{"model":"Priestly-Taylor","kind":"p","x":1.26,"y":3.52},{"model":"Priestly-Taylor","kind":"p","x":1.51,"y":3.56},{"model":"Priestly-Taylor","kind":"p","x":1.83,"y":3.56},{"model":"Priestly-Taylor","kind":"p","x":1.91,"y":3.73},{"model":"Priestly-Taylor","kind":"p","x":2.00,"y":3.64},{"model":"Priestly-Taylor","kind":"p","x":2.16,"y":3.73},{"model":"Priestly-Taylor","kind":"p","x":2.20,"y":3.48},{"model":"Priestly-Taylor","kind":"p","x":2.04,"y":3.24},{"model":"Priestly-Taylor","kind":"p","x":1.91,"y":3.07},{"model":"Priestly-Taylor","kind":"p","x":1.75,"y":2.99},{"model":"Priestly-Taylor","kind":"p","x":1.59,"y":2.83},{"model":"Priestly-Taylor","kind":"p","x":1.38,"y":2.91},{"model":"Priestly-Taylor","kind":"p","x":1.06,"y":3.15},{"model":"Priestly-Taylor","kind":"p","x":1.01,"y":2.83},{"model":"Priestly-Taylor","kind":"p","x":0.89,"y":2.74},{"model":"Priestly-Taylor","kind":"p","x":0.93,"y":2.58},{"model":"Priestly-Taylor","kind":"p","x":1.18,"y":2.66},{"model":"Priestly-Taylor","kind":"p","x":1.26,"y":2.42},{"model":"Priestly-Taylor","kind":"p","x":1.42,"y":2.17},{"model":"Priestly-Taylor","kind":"p","x":1.75,"y":2.58},{"model":"Priestly-Taylor","kind":"p","x":2.12,"y":2.62},{"model":"Priestly-Taylor","kind":"p","x":2.45,"y":2.62},{"model":"Priestly-Taylor","kind":"p","x":2.57,"y":3.11},{"model":"Priestly-Taylor","kind":"p","x":2.65,"y":3.03},{"model":"Priestly-Taylor","kind":"p","x":2.61,"y":3.44},{"model":"Priestly-Taylor","kind":"p","x":2.32,"y":2.78},{"model":"Priestly-Taylor","kind":"p","x":0.44,"y":3.03},{"model":"Priestly-Taylor","kind":"p","x":0.40,"y":2.33},{"model":"Priestly-Taylor","kind":"p","x":0.56,"y":2.33},{"model":"Priestly-Taylor","kind":"p","x":0.61,"y":2.09},{"model":"Priestly-Taylor","kind":"p","x":0.73,"y":1.92},{"model":"Priestly-Taylor","kind":"p","x":0.93,"y":1.97},{"model":"Priestly-Taylor","kind":"p","x":0.85,"y":1.68},{"model":"Priestly-Taylor","kind":"p","x":1.06,"y":1.68},{"model":"Priestly-Taylor","kind":"p","x":1.22,"y":1.84},{"model":"Priestly-Taylor","kind":"p","x":0.52,"y":1.72},{"model":"Priestly-Taylor","kind":"p","x":0.36,"y":1.60},{"model":"Priestly-Taylor","kind":"p","x":0.28,"y":1.47},{"model":"Priestly-Taylor","kind":"p","x":0.20,"y":1.27},{"model":"Priestly-Taylor","kind":"p","x":0.16,"y":1.11},{"model":"Priestly-Taylor","kind":"p","x":0.11,"y":0.90},{"model":"Priestly-Taylor","kind":"p","x":0.11,"y":0.78},{"model":"Priestly-Taylor","kind":"p","x":0.20,"y":0.82},{"model":"Priestly-Taylor","kind":"p","x":0.32,"y":1.19},{"model":"Priestly-Taylor","kind":"p","x":0.11,"y":1.52},{"model":"Priestly-Taylor","kind":"p","x":0.77,"y":2.33},{"model":"Priestly-Taylor","kind":"p","x":1.63,"y":3.32},{"model":"Priestly-Taylor","kind":"p","x":2.82,"y":4.46},{"model":"Priestly-Taylor","kind":"p","x":2.98,"y":4.55},{"model":"Priestly-Taylor","kind":"p","x":4.21,"y":5.53},
{"model":"Granger Gray","kind":"fit","x":0.13,"y":1.19},{"model":"Granger Gray","kind":"fit","x":5.86,"y":4.50},
{"model":"Hargreaves-Samani","kind":"fit","x":0.12,"y":3.04},{"model":"Hargreaves-Samani","kind":"fit","x":5.85,"y":5.78},
{"model":"Matt-Shuttleworth","kind":"fit","x":0.14,"y":1.24},{"model":"Matt-Shuttleworth","kind":"fit","x":5.84,"y":4.87},
{"model":"Penman-Monteith ASCE","kind":"fit","x":0.12,"y":2.47},{"model":"Penman-Monteith ASCE","kind":"fit","x":5.86,"y":8.35},
{"model":"Penman-Monteith FAO","kind":"fit","x":0.12,"y":1.97},{"model":"Penman-Monteith FAO","kind":"fit","x":5.85,"y":6.88},
{"model":"Priestly-Taylor","kind":"fit","x":0.11,"y":1.74},{"model":"Priestly-Taylor","kind":"fit","x":5.84,"y":6.92},
{"model":"Granger Gray","kind":"ref","x":-0.4,"y":-0.4},{"model":"Granger Gray","kind":"ref","x":7.4,"y":7.4},
{"model":"Hargreaves-Samani","kind":"ref","x":-0.4,"y":-0.4},{"model":"Hargreaves-Samani","kind":"ref","x":7.4,"y":7.4},
{"model":"Matt-Shuttleworth","kind":"ref","x":-0.4,"y":-0.4},{"model":"Matt-Shuttleworth","kind":"ref","x":7.4,"y":7.4},
{"model":"Penman-Monteith ASCE","kind":"ref","x":-0.4,"y":-0.4},{"model":"Penman-Monteith ASCE","kind":"ref","x":7.4,"y":7.4},
{"model":"Penman-Monteith FAO","kind":"ref","x":-0.4,"y":-0.4},{"model":"Penman-Monteith FAO","kind":"ref","x":7.4,"y":7.4},
{"model":"Priestly-Taylor","kind":"ref","x":-0.4,"y":-0.4},{"model":"Priestly-Taylor","kind":"ref","x":7.4,"y":7.4},
{"model":"Granger Gray","kind":"ccc","label":"CCC = 0.78"},
{"model":"Hargreaves-Samani","kind":"ccc","label":"CCC = 0.30"},
{"model":"Matt-Shuttleworth","kind":"ccc","label":"CCC = 0.80"},
{"model":"Penman-Monteith ASCE","kind":"ccc","label":"CCC = 0.41"},
{"model":"Penman-Monteith FAO","kind":"ccc","label":"CCC = 0.57"},
{"model":"Priestly-Taylor","kind":"ccc","label":"CCC = 0.60"}
]},
"facet": {
  "field": "model", "type": "nominal",
  "sort": ["Granger Gray","Hargreaves-Samani","Matt-Shuttleworth","Penman-Monteith ASCE","Penman-Monteith FAO","Priestly-Taylor"],
  "title": "Empirical Model ET (mm d⁻¹)",
  "header": {
    "labelFontSize": 1, "labelColor": "transparent", "labelPadding": 0,
    "titleOrient": "bottom", "titleFontSize": 29.5, "titleFontWeight": "bold", "titleFont": "Liberation Sans", "titleColor": "#000000", "titlePadding": 35
  }
},
"columns": 3,
"spacing": {"row": 40, "column": 27},
"spec": {
  "width": 312, "height": 356,
  "layer": [
    {"transform": [{"filter": "datum.kind == 'p' && (datum.model == 'Granger Gray' || datum.model == 'Hargreaves-Samani' || datum.model == 'Penman-Monteith FAO')"}],
     "mark": {"type": "point", "filled": true, "opacity": 0.55},
     "encoding": {
       "x": {"field": "x", "type": "quantitative", "scale": {"domain": [-0.335, 7.33], "nice": false, "zero": false}, "axis": {"values": [0, 2, 4, 6], "title": null}},
       "y": {"field": "y", "type": "quantitative", "scale": {"domain": [-0.37, 8.37], "nice": false, "zero": false}, "axis": {"values": [0, 2, 4, 6, 8], "title": null}},
       "color": {"field": "model", "type": "nominal", "legend": null, "scale": {"domain": ["Granger Gray","Hargreaves-Samani","Matt-Shuttleworth","Penman-Monteith ASCE","Penman-Monteith FAO","Priestly-Taylor"], "range": ["#DB9D4C","#11A085","#5BBCD8","#FF8C00","#A6DBDB","#EEAA00"]}},
       "shape": {"field": "model", "type": "nominal", "legend": null, "scale": {"domain": ["Granger Gray","Hargreaves-Samani","Matt-Shuttleworth","Penman-Monteith ASCE","Penman-Monteith FAO","Priestly-Taylor"], "range": ["circle","triangle-up","M-1,0H1M0,-1V1","M-1,-1L1,1M-1,1L1,-1","diamond","M-1,0H1M0,-1V1M-0.71,-0.71L0.71,0.71M-0.71,0.71L0.71,-0.71"]}},
       "size": {"field": "model", "type": "nominal", "legend": null, "scale": {"domain": ["Granger Gray","Hargreaves-Samani","Matt-Shuttleworth","Penman-Monteith ASCE","Penman-Monteith FAO","Priestly-Taylor"], "range": [110, 165, 200, 155, 90, 195]}}
     }},
    {"transform": [{"filter": "datum.kind == 'p' && (datum.model == 'Matt-Shuttleworth' || datum.model == 'Penman-Monteith ASCE' || datum.model == 'Priestly-Taylor')"}],
     "mark": {"type": "point", "filled": false, "opacity": 0.6, "strokeWidth": 1.3},
     "encoding": {
       "x": {"field": "x", "type": "quantitative", "scale": {"domain": [-0.335, 7.33], "nice": false, "zero": false}, "axis": {"values": [0, 2, 4, 6], "title": null}},
       "y": {"field": "y", "type": "quantitative", "scale": {"domain": [-0.37, 8.37], "nice": false, "zero": false}, "axis": {"values": [0, 2, 4, 6, 8], "title": null}},
       "color": {"field": "model", "type": "nominal", "legend": null},
       "shape": {"field": "model", "type": "nominal", "legend": null},
       "size": {"field": "model", "type": "nominal", "legend": null}
     }},
    {"transform": [{"filter": "datum.kind == 'ref'"}],
     "mark": {"type": "line", "clip": true, "color": "#5f5f5f", "strokeWidth": 2.3, "strokeCap": "round", "strokeDash": [0.01, 8.4]},
     "encoding": {
       "x": {"field": "x", "type": "quantitative", "scale": {"domain": [-0.335, 7.33], "nice": false, "zero": false}, "axis": {"values": [0, 2, 4, 6], "title": null}},
       "y": {"field": "y", "type": "quantitative", "scale": {"domain": [-0.37, 8.37], "nice": false, "zero": false}, "axis": {"values": [0, 2, 4, 6, 8], "title": null}}
     }},
    {"transform": [{"filter": "datum.kind == 'fit'"}],
     "mark": {"type": "line", "strokeWidth": 5, "clip": true},
     "encoding": {
       "x": {"field": "x", "type": "quantitative", "scale": {"domain": [-0.335, 7.33], "nice": false, "zero": false}, "axis": {"values": [0, 2, 4, 6], "title": null}},
       "y": {"field": "y", "type": "quantitative", "scale": {"domain": [-0.37, 8.37], "nice": false, "zero": false}, "axis": {"values": [0, 2, 4, 6, 8], "title": null}},
       "color": {"field": "model", "type": "nominal", "legend": null}
     }},
    {"transform": [{"filter": "datum.kind == 'ccc'"}],
     "mark": {"type": "text", "align": "left", "baseline": "middle", "fontSize": 22.5, "font": "Liberation Sans", "color": "#595959"},
     "encoding": {"x": {"datum": 0}, "y": {"datum": 7.67}, "text": {"field": "label", "type": "nominal"}}},
    {"transform": [{"filter": "datum.kind == 'ccc'"}],
     "mark": {"type": "text", "align": "left", "baseline": "alphabetic", "fontSize": 21, "fontWeight": "bold", "font": "Liberation Sans", "color": "#5c5c5c"},
     "encoding": {"x": {"datum": -0.03}, "y": {"datum": 8.665}, "text": {"field": "model", "type": "nominal"}}}
  ]
},
"config": {
  "font": "Liberation Sans",
  "view": {"stroke": "#808080", "strokeWidth": 1.3},
  "axis": {"grid": false, "domain": false, "tickColor": "#333333", "tickSize": 6, "tickWidth": 1.3, "labelFontSize": 20.5, "labelColor": "#4d4d4d", "labelFont": "Liberation Sans"},
  "axisX": {"labelPadding": 4},
  "axisY": {"labelPadding": 8}
}
}
